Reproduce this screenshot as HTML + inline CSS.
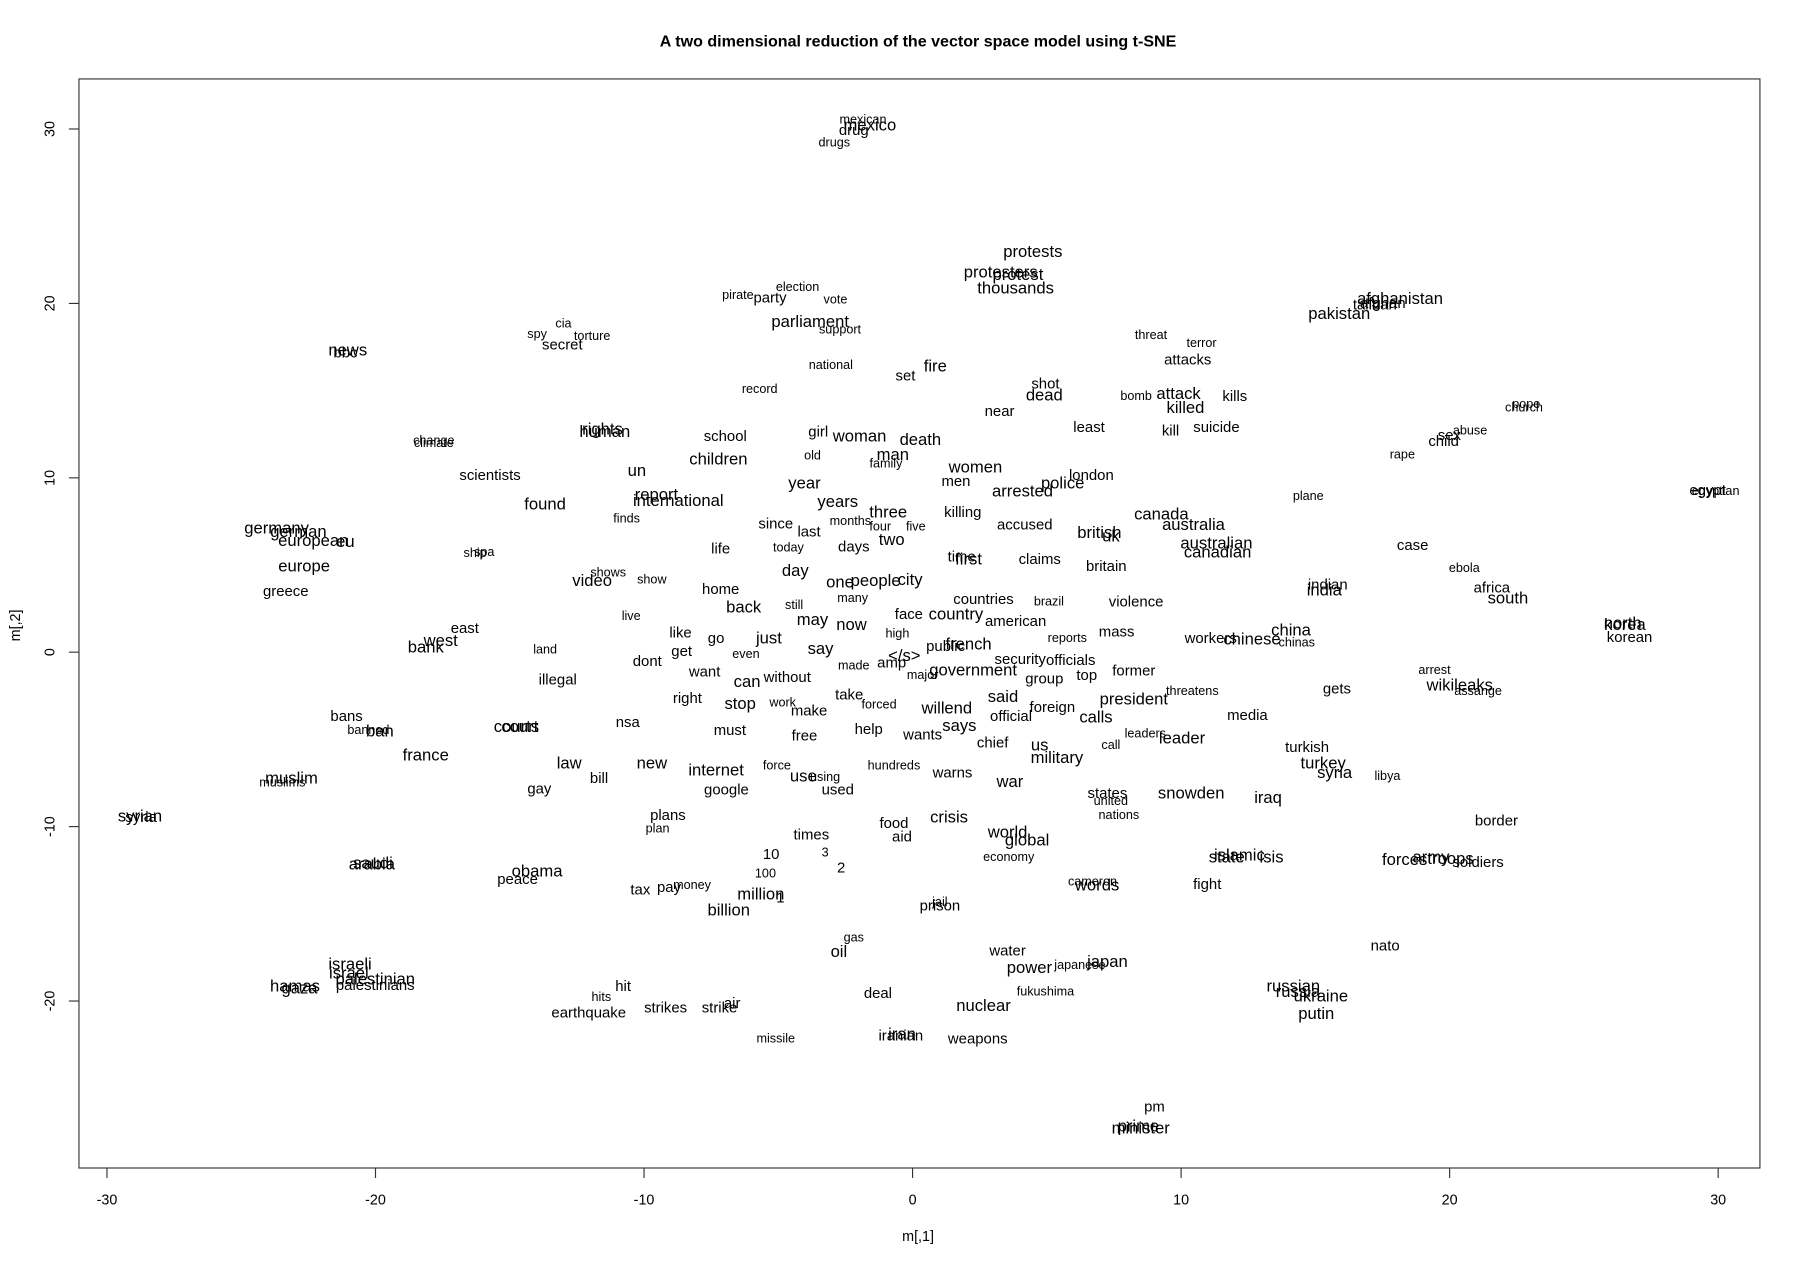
<!DOCTYPE html>
<html><head><meta charset="utf-8"><style>html,body{margin:0;padding:0;background:#fff}svg{display:block}text{font-family:"Liberation Sans",Arial,sans-serif;fill:#000}</style></head><body>
<svg width="1800" height="1266" viewBox="0 0 1568.5 1103.2" xmlns="http://www.w3.org/2000/svg">
<text x="800" y="36" font-size="14" font-weight="bold" text-anchor="middle" dominant-baseline="central">A two dimensional reduction of the vector space model using t-SNE</text>
<rect x="68.8" y="68.8" width="1464.8" height="949" fill="none" stroke="#333" stroke-width="1"/>
<g stroke="#333" stroke-width="1">
<line x1="93.2" y1="1017.8" x2="93.2" y2="1026.5"/><line x1="327.2" y1="1017.8" x2="327.2" y2="1026.5"/><line x1="561.2" y1="1017.8" x2="561.2" y2="1026.5"/><line x1="795.2" y1="1017.8" x2="795.2" y2="1026.5"/><line x1="1029.2" y1="1017.8" x2="1029.2" y2="1026.5"/><line x1="1263.2" y1="1017.8" x2="1263.2" y2="1026.5"/><line x1="1497.2" y1="1017.8" x2="1497.2" y2="1026.5"/>
<line x1="68.8" y1="112.4" x2="60" y2="112.4"/><line x1="68.8" y1="264.4" x2="60" y2="264.4"/><line x1="68.8" y1="416.4" x2="60" y2="416.4"/><line x1="68.8" y1="568.3" x2="60" y2="568.3"/><line x1="68.8" y1="720.3" x2="60" y2="720.3"/><line x1="68.8" y1="872.3" x2="60" y2="872.3"/>
</g>
<g font-size="12.5" text-anchor="middle" dominant-baseline="central">
<text x="93.2" y="1046">-30</text><text x="327.2" y="1046">-20</text><text x="561.2" y="1046">-10</text><text x="795.2" y="1046">0</text><text x="1029.2" y="1046">10</text><text x="1263.2" y="1046">20</text><text x="1497.2" y="1046">30</text>
<text transform="translate(44,112.4) rotate(-90)">30</text><text transform="translate(44,264.4) rotate(-90)">20</text><text transform="translate(44,416.4) rotate(-90)">10</text><text transform="translate(44,568.3) rotate(-90)">0</text><text transform="translate(44,720.3) rotate(-90)">-10</text><text transform="translate(44,872.3) rotate(-90)">-20</text>
<text x="800" y="1078">m[,1]</text>
<text transform="translate(14,545) rotate(-90)">m[,2]</text>
</g>
<g text-anchor="middle" dominant-baseline="central">
<g font-size="11">
<text x="752" y="104">mexican</text><text x="727" y="124">drugs</text><text x="695" y="250">election</text><text x="643" y="257">pirate</text><text x="728" y="261">vote</text><text x="732" y="287">support</text><text x="491" y="282">cia</text><text x="468" y="291">spy</text><text x="516" y="293">torture</text><text x="1003" y="292">threat</text><text x="1047" y="299">terror</text><text x="724" y="318">national</text><text x="662" y="339">record</text><text x="990" y="345">bomb</text><text x="1330" y="352">pope</text><text x="1328" y="355">church</text><text x="1281" y="375">abuse</text><text x="1222" y="396">rape</text><text x="708" y="397">old</text><text x="772" y="404">family</text><text x="378" y="384">change</text><text x="378" y="386">climate</text><text x="1140" y="432">plane</text><text x="1495" y="428">egyptian</text><text x="741" y="454">months</text><text x="546" y="452">finds</text><text x="767" y="459">four</text><text x="798" y="459">five</text><text x="687" y="477">today</text><text x="414" y="482">ship</text><text x="422" y="481">spa</text><text x="1276" y="495">ebola</text><text x="530" y="499">shows</text><text x="568" y="505">show</text><text x="743" y="521">many</text><text x="914" y="524">brazil</text><text x="692" y="527">still</text><text x="550" y="537">live</text><text x="782" y="552">high</text><text x="1130" y="560">chinas</text><text x="930" y="556">reports</text><text x="475" y="566">land</text><text x="650" y="570">even</text><text x="744" y="580">made</text><text x="804" y="588">major</text><text x="1250" y="584">arrest</text><text x="1039" y="602">threatens</text><text x="682" y="612">work</text><text x="766" y="614">forced</text><text x="321" y="636">banned</text><text x="998" y="639">leaders</text><text x="968" y="649">call</text><text x="677" y="667">force</text><text x="779" y="667">hundreds</text><text x="719" y="677">using</text><text x="1209" y="676">libya</text><text x="246" y="682">muslims</text><text x="968" y="698">united</text><text x="975" y="710">nations</text><text x="573" y="722">plan</text><text x="719" y="743">3</text><text x="879" y="747">economy</text><text x="667" y="761">100</text><text x="952" y="768">cameron</text><text x="603" y="771">money</text><text x="819" y="786">jail</text><text x="744" y="817">gas</text><text x="941" y="841">japanese</text><text x="911" y="864">fukushima</text><text x="524" y="869">hits</text><text x="676" y="905">missile</text><text x="1288" y="602">assange</text>
</g>
<g font-size="13">
<text x="744" y="114">drug</text><text x="671" y="260">party</text><text x="490" y="301">secret</text><text x="301" y="308">bbc</text><text x="1198" y="266">taliban</text><text x="1205" y="265">afghan</text><text x="1035" y="314">attacks</text><text x="789" y="328">set</text><text x="911" y="335">shot</text><text x="1076" y="346">kills</text><text x="871" y="359">near</text><text x="949" y="373">least</text><text x="1020" y="376">kill</text><text x="1060" y="373">suicide</text><text x="1263" y="380">sex</text><text x="1258" y="385">child</text><text x="632" y="381">school</text><text x="713" y="377">girl</text><text x="833" y="420">men</text><text x="427" y="415">scientists</text><text x="951" y="415">london</text><text x="1488" y="428">egypt</text><text x="839" y="447">killing</text><text x="676" y="457">since</text><text x="893" y="458">accused</text><text x="705" y="464">last</text><text x="744" y="477">days</text><text x="628" y="479">life</text><text x="1231" y="476">case</text><text x="838" y="486">time</text><text x="906" y="488">claims</text><text x="964" y="494">britain</text><text x="1157" y="510">indian</text><text x="1300" y="513">africa</text><text x="249" y="516">greece</text><text x="628" y="514">home</text><text x="857" y="523">countries</text><text x="990" y="525">violence</text><text x="792" y="536">face</text><text x="885" y="542">american</text><text x="1420" y="556">korean</text><text x="405" y="548">east</text><text x="593" y="552">like</text><text x="973" y="551">mass</text><text x="1055" y="557">workers</text><text x="624" y="557">go</text><text x="594" y="568">get</text><text x="824" y="564">public</text><text x="933" y="576">officials</text><text x="889" y="575">security</text><text x="564" y="577">dont</text><text x="777" y="578">amp</text><text x="614" y="586">want</text><text x="988" y="585">former</text><text x="910" y="592">group</text><text x="947" y="589">top</text><text x="686" y="591">without</text><text x="486" y="593">illegal</text><text x="1165" y="601">gets</text><text x="740" y="606">take</text><text x="599" y="609">right</text><text x="917" y="617">foreign</text><text x="705" y="620">make</text><text x="881" y="625">official</text><text x="1087" y="624">media</text><text x="302" y="625">bans</text><text x="547" y="630">nsa</text><text x="636" y="637">must</text><text x="757" y="636">help</text><text x="701" y="642">free</text><text x="804" y="641">wants</text><text x="865" y="648">chief</text><text x="1139" y="652">turkish</text><text x="830" y="674">warns</text><text x="522" y="679">bill</text><text x="730" y="689">used</text><text x="633" y="689">google</text><text x="470" y="688">gay</text><text x="965" y="692">states</text><text x="123" y="713">syria</text><text x="582" y="711">plans</text><text x="1304" y="716">border</text><text x="779" y="718">food</text><text x="786" y="730">aid</text><text x="707" y="728">times</text><text x="672" y="745">10</text><text x="1288" y="752">soldiers</text><text x="733" y="757">2</text><text x="451" y="767">peace</text><text x="1052" y="771">fight</text><text x="583" y="774">pay</text><text x="558" y="776">tax</text><text x="680" y="783">1</text><text x="819" y="790">prison</text><text x="1207" y="825">nato</text><text x="878" y="829">water</text><text x="327" y="859">palestinians</text><text x="543" y="860">hit</text><text x="765" y="866">deal</text><text x="627" y="879">strike</text><text x="638" y="875">air</text><text x="580" y="879">strikes</text><text x="513" y="883">earthquake</text><text x="785" y="903">iranian</text><text x="852" y="906">weapons</text><text x="1006" y="965">pm</text>
</g>
<g font-size="14.5">
<text x="758" y="109">mexico</text><text x="900" y="219">protests</text><text x="872" y="237">protesters</text><text x="887" y="239">protest</text><text x="885" y="251">thousands</text><text x="706" y="280">parliament</text><text x="303" y="305">news</text><text x="1220" y="260">afghanistan</text><text x="1167" y="273">pakistan</text><text x="815" y="319">fire</text><text x="910" y="344">dead</text><text x="1027" y="343">attack</text><text x="1033" y="355">killed</text><text x="525" y="374">rights</text><text x="527" y="376">human</text><text x="749" y="380">woman</text><text x="802" y="383">death</text><text x="778" y="396">man</text><text x="626" y="400">children</text><text x="555" y="410">un</text><text x="850" y="407">women</text><text x="926" y="421">police</text><text x="891" y="428">arrested</text><text x="701" y="421">year</text><text x="572" y="431">report</text><text x="591" y="436">international</text><text x="475" y="439">found</text><text x="730" y="437">years</text><text x="774" y="446">three</text><text x="1012" y="448">canada</text><text x="1040" y="457">australia</text><text x="958" y="464">british</text><text x="968" y="467">uk</text><text x="241" y="460">germany</text><text x="260" y="463">german</text><text x="273" y="471">european</text><text x="301" y="472">eu</text><text x="265" y="493">europe</text><text x="777" y="470">two</text><text x="1060" y="473">australian</text><text x="1061" y="481">canadian</text><text x="844" y="487">first</text><text x="693" y="497">day</text><text x="516" y="506">video</text><text x="732" y="507">one</text><text x="763" y="506">people</text><text x="793" y="505">city</text><text x="1154" y="514">india</text><text x="1314" y="521">south</text><text x="648" y="529">back</text><text x="833" y="535">country</text><text x="708" y="540">may</text><text x="742" y="544">now</text><text x="1416" y="544">korea</text><text x="1414" y="543">north</text><text x="1125" y="549">china</text><text x="1091" y="557">chinese</text><text x="384" y="558">west</text><text x="670" y="556">just</text><text x="371" y="564">bank</text><text x="844" y="561">french</text><text x="715" y="565">say</text><text x="788" y="571">&lt;/s&gt;</text><text x="848" y="584">government</text><text x="651" y="594">can</text><text x="1272" y="597">wikileaks</text><text x="874" y="607">said</text><text x="988" y="609">president</text><text x="645" y="613">stop</text><text x="813" y="617">will</text><text x="835" y="617">end</text><text x="955" y="625">calls</text><text x="453" y="633">court</text><text x="450" y="633">courts</text><text x="331" y="637">ban</text><text x="836" y="632">says</text><text x="1030" y="643">leader</text><text x="906" y="649">us</text><text x="371" y="658">france</text><text x="921" y="660">military</text><text x="496" y="665">law</text><text x="568" y="665">new</text><text x="624" y="671">internet</text><text x="1153" y="665">turkey</text><text x="700" y="676">use</text><text x="1163" y="673">syria</text><text x="254" y="678">muslim</text><text x="880" y="681">war</text><text x="1038" y="691">snowden</text><text x="1105" y="695">iraq</text><text x="122" y="711">syrian</text><text x="827" y="712">crisis</text><text x="878" y="725">world</text><text x="895" y="732">global</text><text x="325" y="752">saudi</text><text x="324" y="753">arabia</text><text x="1069" y="747">state</text><text x="1080" y="745">islamic</text><text x="1108" y="747">isis</text><text x="1247" y="747">army</text><text x="1264" y="748">troops</text><text x="1224" y="749">forces</text><text x="468" y="759">obama</text><text x="956" y="771">words</text><text x="663" y="779">million</text><text x="635" y="793">billion</text><text x="731" y="829">oil</text><text x="965" y="838">japan</text><text x="897" y="843">power</text><text x="305" y="840">israeli</text><text x="304" y="848">israel</text><text x="327" y="853">palestinian</text><text x="257" y="859">hamas</text><text x="261" y="861">gaza</text><text x="1127" y="859">russian</text><text x="1131" y="864">russia</text><text x="1151" y="868">ukraine</text><text x="857" y="876">nuclear</text><text x="1147" y="883">putin</text><text x="786" y="901">iran</text><text x="994" y="983">minister</text><text x="992" y="981">prime</text>
</g>
</g>
</svg>
</body></html>
